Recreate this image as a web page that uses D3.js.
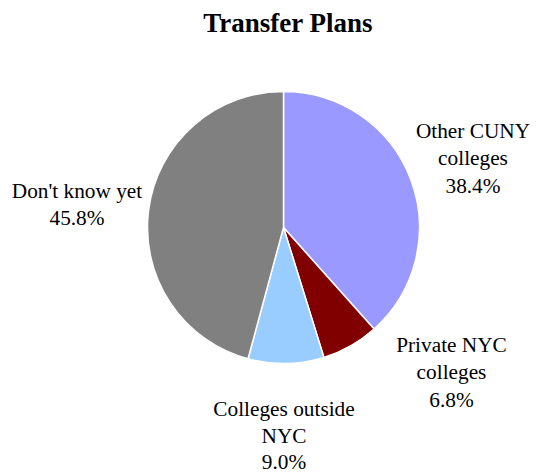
<!DOCTYPE html>
<html>
<head>
<meta charset="utf-8">
<script src="https://cdn.jsdelivr.net/npm/d3@7"></script>
<style>
  body { margin: 0; background: #fff; }
  text { font-family: "Liberation Serif", "Times New Roman", serif; fill: #000; }
</style>
</head>
<body>
<div id="chart"></div>
<script>
var categories = ["Other CUNY colleges", "Private NYC colleges", "Colleges outside NYC", "Don't know yet"];
var values = [38.4, 6.8, 9.0, 45.8];
var labelLines = [["Other CUNY", "colleges"], ["Private NYC", "colleges"], ["Colleges outside", "NYC"], ["Don't know yet"]];
var colors = ["#9999FF", "#800000", "#99CCFF", "#808080"];

// label anchor spots (layout only), top line baseline
var labelPos = [[473, 138], [451.5, 352], [284, 416], [77, 198]];
var lineGap = [27.3, 27.3, 26.5, 27.3];

var width = 536, height = 475;
var cx = 283.5, cy = 227.5, radius = 136;

var svg = d3.select("#chart")
    .append("svg")
    .attr("width", width)
    .attr("height", height);

svg.append("text")
    .attr("x", 288)
    .attr("y", 32)
    .attr("text-anchor", "middle")
    .attr("font-family", "Liberation Serif")
    .style("font-size", "27px")
    .style("font-weight", "bold")
    .text("Transfer Plans");

var pie = d3.pie().sort(null).value(function (d) { return d; });
var arc = d3.arc().innerRadius(0).outerRadius(radius);

var g = svg.append("g").attr("transform", "translate(" + cx + "," + cy + ")");

g.selectAll("path")
    .data(pie(values))
    .enter()
    .append("path")
    .attr("d", arc)
    .attr("fill", function (d, i) { return colors[i]; })
    .attr("stroke", "#fff")
    .attr("stroke-width", 1.5);

var labels = svg.selectAll("text.lbl")
    .data(categories)
    .enter()
    .append("text")
    .attr("class", "lbl")
    .attr("text-anchor", "middle")
    .attr("font-family", "Liberation Serif")
    .style("font-size", "21.3px");

labels.each(function (d, i) {
    var t = d3.select(this);
    var lines = labelLines[i].concat([values[i].toFixed(1) + "%"]);
    lines.forEach(function (ln, k) {
        t.append("tspan")
            .attr("x", labelPos[i][0])
            .attr("y", labelPos[i][1] + k * lineGap[i])
            .text(ln);
    });
});
</script>
</body>
</html>
